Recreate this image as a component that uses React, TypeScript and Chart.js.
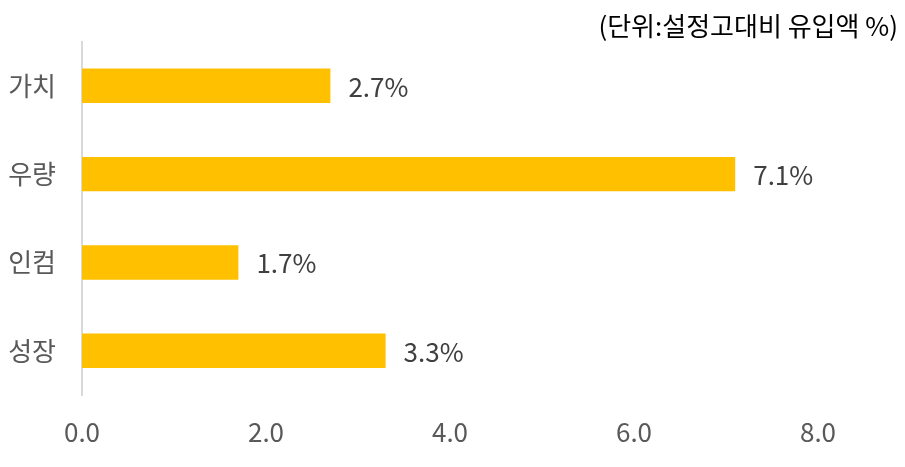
import { useEffect, useRef } from "react";
import { Chart, registerables } from "chart.js";

Chart.register(...registerables);

const categories = ["가치", "우량", "인컴", "성장"];
const inflows = [2.7, 7.1, 1.7, 3.3];
const unitNote = "(단위:설정고대비 유입액 %)";

const FONT = "'Noto Sans CJK KR', 'Noto Sans', sans-serif";

// value labels right of the bars + the unit note in the top right corner
const labelsPlugin = {
  id: "barLabels",
  afterDraw(chart: Chart) {
    const ctx = chart.ctx;
    const meta = chart.getDatasetMeta(0);
    ctx.save();
    ctx.font = `26px ${FONT}`;
    ctx.fillStyle = "#404040";
    ctx.textAlign = "left";
    ctx.textBaseline = "middle";
    meta.data.forEach((bar: any, i: number) => {
      ctx.fillText(inflows[i].toFixed(1) + "%", bar.x + 18, bar.y + 1);
    });
    ctx.font = `26px ${FONT}`;
    ctx.fillStyle = "#000000";
    ctx.textAlign = "right";
    ctx.fillText(unitNote, 898, 26);
    ctx.restore();
  },
};

export default function App() {
  const canvasRef = useRef<HTMLCanvasElement>(null);

  useEffect(() => {
    document.body.style.margin = "0";
    if (!canvasRef.current) return;

    const chart = new Chart(canvasRef.current, {
      type: "bar",
      data: {
        labels: categories,
        datasets: [
          {
            data: inflows,
            backgroundColor: "#FFC000",
            borderWidth: 0,
            barPercentage: 0.39,
            categoryPercentage: 1,
          },
        ],
      },
      options: {
        indexAxis: "y",
        responsive: false,
        animation: false,
        layout: { padding: { top: 38, right: 87, bottom: 0, left: 8 } },
        plugins: {
          legend: { display: false },
          tooltip: { enabled: false },
        },
        scales: {
          x: {
            min: 0,
            max: 8,
            grid: { display: false, drawTicks: false },
            border: { display: false },
            afterFit: (scale: any) => {
              scale.height = 72;
            },
            ticks: {
              stepSize: 2,
              padding: 22,
              color: "#595959",
              font: { family: FONT, size: 26 },
              callback: (v: any) => Number(v).toFixed(1),
            },
          },
          y: {
            grid: { display: false, drawTicks: false },
            border: { display: true, color: "#D9D9D9", width: 2 },
            afterFit: (scale: any) => {
              scale.width = 74;
            },
            ticks: {
              padding: 26,
              color: "#595959",
              font: { family: FONT, size: 26 },
            },
          },
        },
      },
      plugins: [labelsPlugin],
    });

    return () => chart.destroy();
  }, []);

  return (
    <div style={{ width: 905, height: 467, background: "#ffffff" }}>
      <canvas ref={canvasRef} width={905} height={467} />
    </div>
  );
}
